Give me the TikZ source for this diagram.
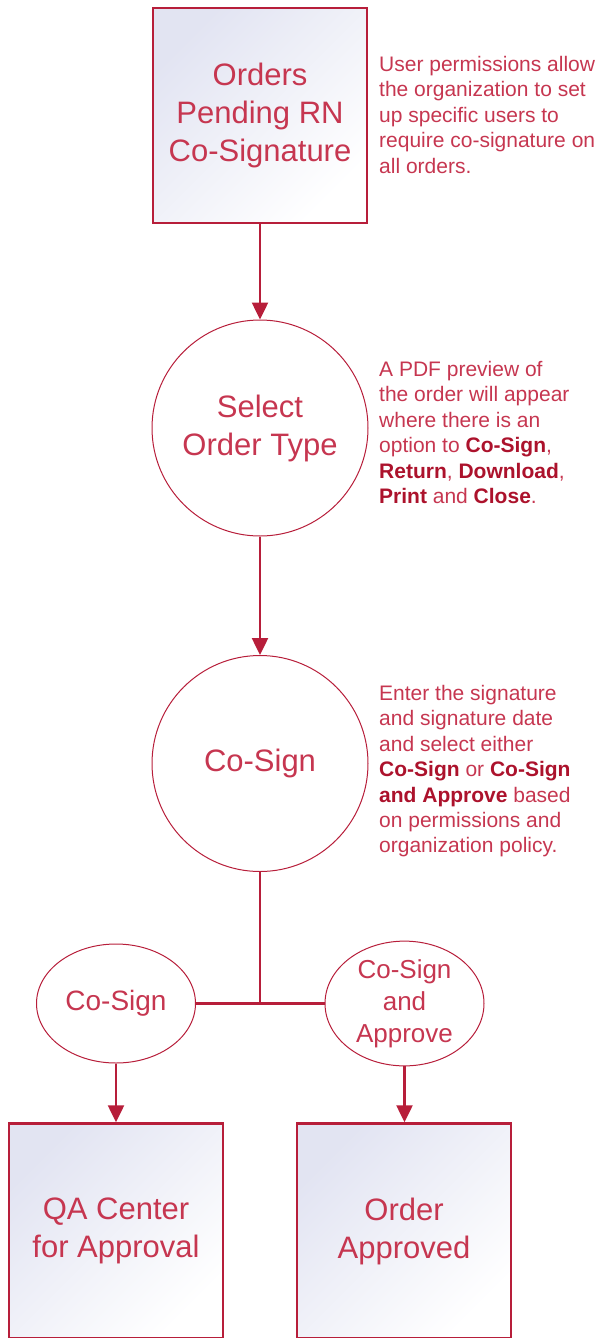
\documentclass[tikz,border=0pt]{standalone}
\usepackage{fontspec}
\setmainfont{Liberation Sans}
\usetikzlibrary{arrows.meta,shapes.geometric}
\definecolor{rnred}{RGB}{183,30,58}
\definecolor{rntext}{RGB}{198,54,80}
\definecolor{rnbold}{RGB}{172,18,44}
\definecolor{rnlav}{RGB}{226,228,242}
\newcommand{\keyword}[1]{{\color{rnbold}\bfseries #1}}
\begin{document}
\begin{tikzpicture}[x=1pt, y=1pt,
    stagebox/.style={rectangle, draw=rnred, line width=2.5pt, minimum width=214pt, minimum height=215pt,
        inner sep=0pt, top color=rnlav, middle color=white, bottom color=white, shading angle=45,
        text=rntext, align=center, font=\fontsize{31}{38}\selectfont},
    choice/.style={circle, draw=rnred, line width=1pt, minimum size=216pt, inner sep=0pt,
        text=rntext, align=center, font=\fontsize{31}{38}\selectfont},
    branch/.style={ellipse, draw=rnred, line width=1pt, minimum width=159pt, minimum height=119pt,
        inner sep=0pt, text=rntext, align=center},
    note/.style={anchor=north west, inner sep=0pt, align=left, text=rntext,
        font=\fontsize{21}{25.4}\selectfont},
    flow/.style={draw=rnred, line width=2.5pt, -{Triangle[length=17pt, width=16pt]}},
    link/.style={draw=rnred, line width=2.5pt}]
    \useasboundingbox (0,0) rectangle (602,-1338);
    \node[stagebox] (pending) at (260,-115.5) {Orders\\Pending RN\\Co-Signature};
    \node[choice] (select) at (260,-428) {Select\\Order Type};
    \node[choice] (cosign) at (260,-763.5) {Co-Sign};
    \node[branch, font=\fontsize{28}{32}\selectfont] (signonly) at (116,-1003.5) {Co-Sign};
    \node[branch, font=\fontsize{26}{32}\selectfont] (signapprove) at (404.5,-1003.5) {Co-Sign\\and\\Approve};
    \node[stagebox] (qacenter) at (116,-1231) {QA Center\\for Approval};
    \node[stagebox] (approved) at (404,-1231) {Order\\Approved};
    \node[note] (notepending) at (379,-56) {User permissions allow\\the organization to set\\up specific users to\\require co-signature on\\all orders.};
    \node[note] (noteselect) at (379,-361) {A PDF preview of\\the order will appear\\where there is an\\option to \keyword{Co-Sign},\\\keyword{Return}, \keyword{Download},\\\keyword{Print} and \keyword{Close}.};
    \node[note] (notecosign) at (379,-685) {Enter the signature\\and signature date\\and select either\\\keyword{Co-Sign} or \keyword{Co-Sign}\\\keyword{and Approve} based\\on permissions and\\organization policy.};
    \draw[flow] (pending) -- (select);
    \draw[flow] (select) -- (cosign);
    \draw[link] (cosign.south) -- (cosign.south |- signonly.east);
    \draw[link] (signonly.east) -- (signapprove.west);
    \draw[flow] (signonly) -- (qacenter);
    \draw[flow] (signapprove) -- (signapprove |- approved.north);
\end{tikzpicture}
\end{document}
